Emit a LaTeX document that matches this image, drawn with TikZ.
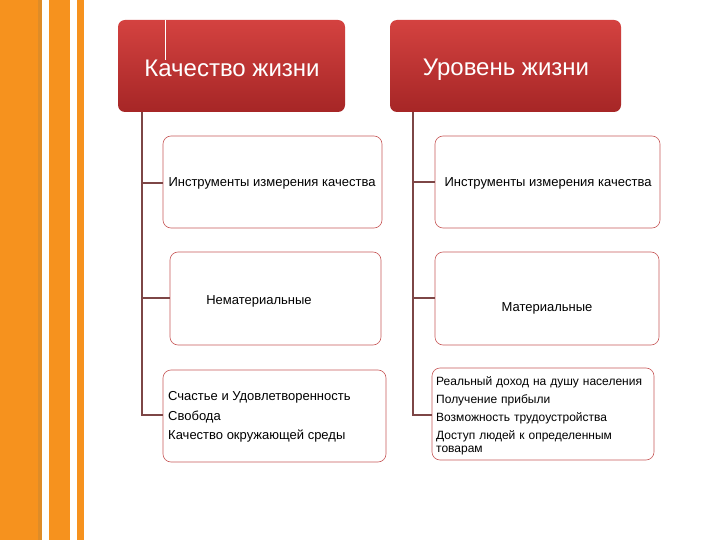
\documentclass[tikz,border=0pt]{standalone}
\usepackage{fontspec}
\setmainfont{Liberation Sans}
\definecolor{orng}{RGB}{246,146,30}
\definecolor{orngdk}{RGB}{222,140,40}
\definecolor{hdtop}{RGB}{212,66,64}
\definecolor{hdbot}{RGB}{166,38,38}
\definecolor{boxline}{RGB}{200,90,90}
\definecolor{conn}{RGB}{125,70,70}
\tikzset{
  hdr/.style={rounded corners=7pt, top color=hdtop, bottom color=hdbot, draw=none},
  hdtext/.style={text=white, font=\fontsize{24}{28}\selectfont},
  ibox/.style={draw=boxline, line width=0.6pt, rounded corners=8pt, fill=white},
  itext/.style={font=\fontsize{13}{15}\selectfont},
  conline/.style={draw=conn, line width=1.8pt}
}
\begin{document}
\begin{tikzpicture}[x=1pt,y=-1pt]
\useasboundingbox (0,0) rectangle (720,540);
\fill[white] (0,0) rectangle (720,540);
% left stripes
\fill[orng] (0,0) rectangle (38,540);
\fill[orngdk] (38,0) rectangle (42,540);
\fill[orng] (49,0) rectangle (70,540);
\fill[orng] (77,0) rectangle (84,540);
% connectors (vertical)
\coordinate (lt) at (142,112);
\coordinate (rt) at (413,112);
% header boxes
\path[hdr] (118,20) rectangle (345,112);
\node[hdtext] (h1) at (232,68) {Качество жизни};
\draw[white, line width=0.6pt] (165,20) -- (165,60);
\path[hdr] (390,20) rectangle (621,112);
\node[hdtext] (h2) at (506,70) {Уровень жизни};
% left column boxes
\draw[ibox] (163,136) rectangle (382,228);
\node[itext] (l1) at (272,183) {Инструменты измерения качества};
\draw[ibox] (170,252) rectangle (381,345);
\node[itext] (l2) at (259,301) {Нематериальные};
\draw[ibox] (163,370) rectangle (386,462);
\node[anchor=west, align=left, inner sep=0pt, font=\fontsize{13}{19.5}\selectfont] (l3) at (168,417)
  {Счастье и Удовлетворенность\\Свобода\\Качество окружающей среды};
% right column boxes
\draw[ibox] (435,136) rectangle (660,228);
\node[itext] (r1) at (548,183) {Инструменты измерения качества};
\draw[ibox] (435,252) rectangle (659,345);
\node[itext] (r2) at (547,308) {Материальные};
\draw[ibox] (432,368) rectangle (654,460);
\node[anchor=north west, align=left, inner sep=0pt, font=\fontsize{12}{13}\selectfont, text width=212pt] (r3) at (436,376)
  {Реальный доход на душу населения\\[5.2pt]Получение прибыли\\[5.2pt]Возможность трудоустройства\\[5.2pt]Доступ людей к определенным товарам};
% connector lines
\draw[conline] (lt) -- (142,415) -- (163,415);
\draw[conline] (142,183) -- (163,183);
\draw[conline] (142,298) -- (170,298);
\draw[conline] (rt) -- (413,415) -- (432,415);
\draw[conline] (413,182) -- (435,182);
\draw[conline] (413,298) -- (435,298);
\end{tikzpicture}
\end{document}
